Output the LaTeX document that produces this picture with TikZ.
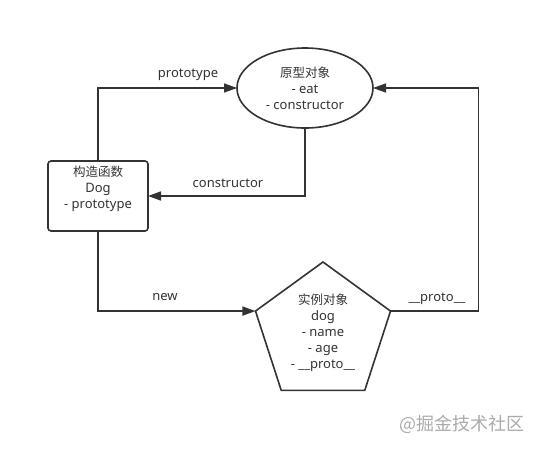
\documentclass[tikz,border=0pt]{standalone}
\usepackage{fontspec}
\setmainfont{Noto Sans}
\newfontfamily\cjk{Noto Sans CJK SC}
\newcommand\zh[1]{{\cjk\fontsize{12.5}{16}\selectfont #1}}
\usetikzlibrary{shapes.geometric,arrows.meta}
\definecolor{ink}{HTML}{333333}
\definecolor{mark}{HTML}{AAAAAA}

\begin{document}
\begin{tikzpicture}[x=1pt,y=-1pt,
  every node/.style={text=ink,font=\fontsize{13}{16}\selectfont},
  obj/.style={draw=ink,line width=1.6pt,align=center,inner sep=0pt,outer sep=0pt},
  link/.style={draw=ink,line width=1.6pt,-{Triangle[length=13pt,width=9pt]}},
  tag/.style={anchor=base}]
\useasboundingbox (0,0) rectangle (540,450);

% the three objects
\node [obj,ellipse,minimum width=136pt,minimum height=80pt] (proto) at (305,88)
  {\zh{原型对象}\\- eat\\- constructor};
\node [obj,rectangle,rounded corners=3pt,minimum width=100pt,minimum height=70pt] (ctor) at (98,196)
  {\zh{构造函数}\\Dog\\- prototype\\[2pt]};
\node [obj,regular polygon,regular polygon sides=5,minimum size=142pt] (inst) at (323,333)
  {\zh{实例对象}\\dog\\- name\\- age\\- \_\_proto\_\_};

% connectors
\draw [link] (ctor.north) |- (proto.west);
\draw [link] (proto.south) |- (ctor.east);
\draw [link] (ctor.south) |- (inst.corner 2);
\draw [link] (inst.corner 5) -- ++(88,0) |- (proto.east);

% labels
\node [tag] (lproto) at (188,77) {prototype};
\node [tag] (lctor) at (228,187) {constructor};
\node [tag] (lnew) at (165,300) {new};
\node [tag] (l__) at (437,301) {\_\_proto\_\_};

\node [text=mark,font=\cjk\fontsize{18}{20}\selectfont] (wm) at (462,424) {@掘金技术社区};
\end{tikzpicture}
\end{document}
